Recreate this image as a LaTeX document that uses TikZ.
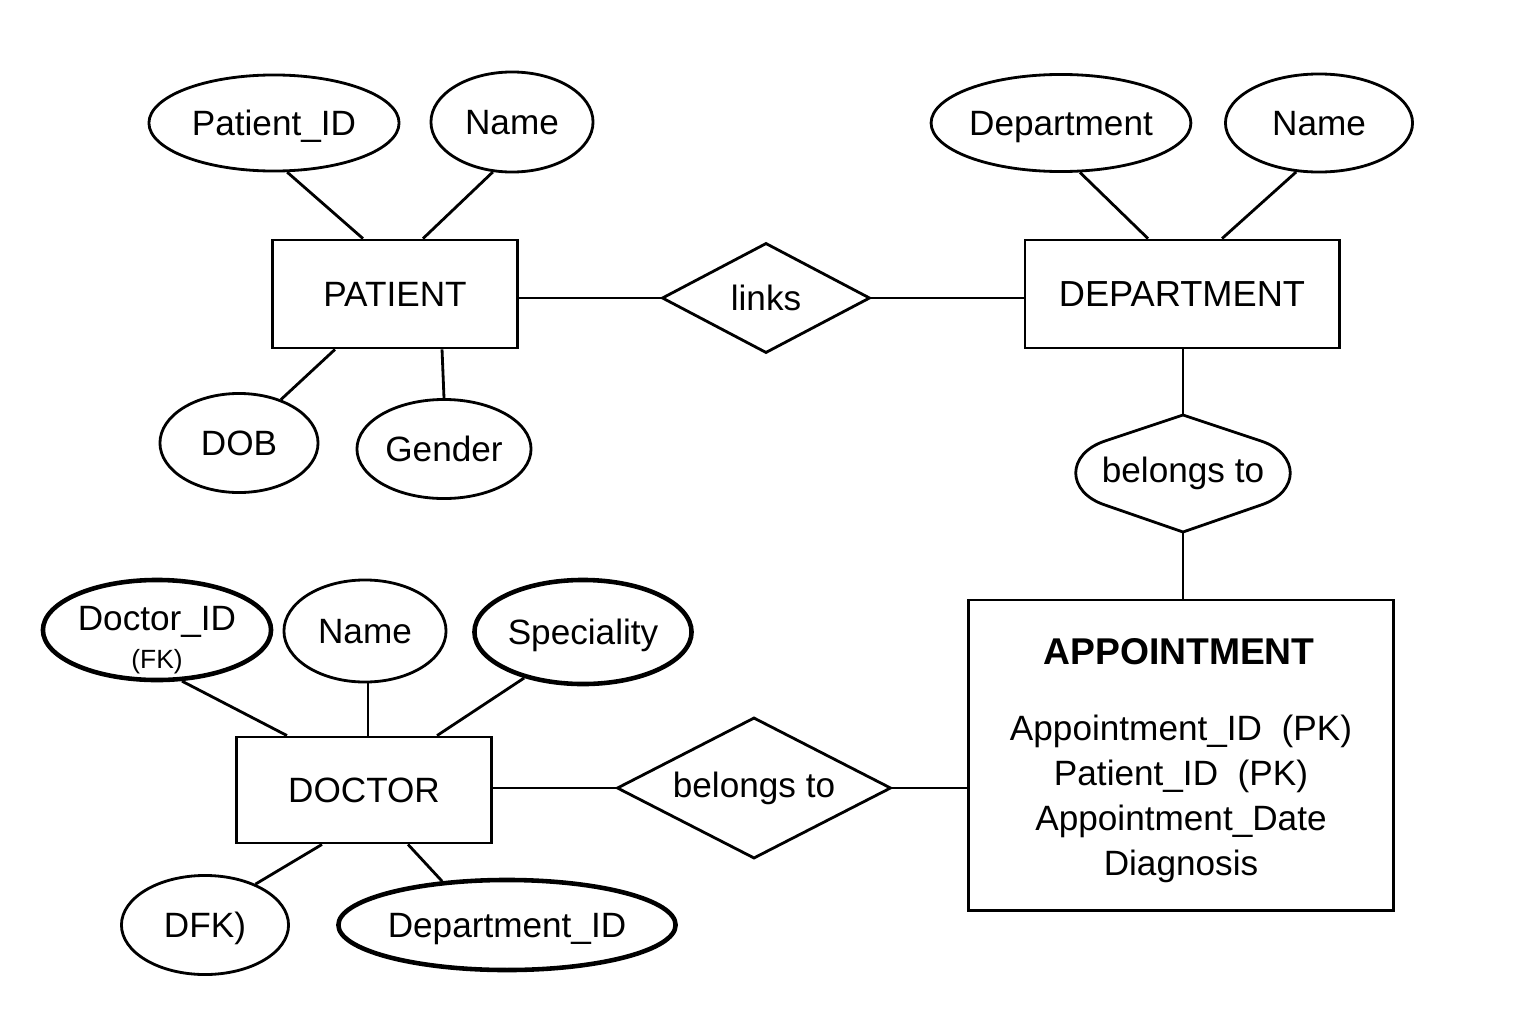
\documentclass[tikz,border=0pt]{standalone}
\usepackage{fontspec}
\setmainfont{Liberation Sans}
\usetikzlibrary{shapes.geometric}

\begin{document}
\begin{tikzpicture}[x=0.01cm,y=-0.01cm]
\tikzstyle{every node}+=[inner sep=0pt, font=\fontsize{10}{12}\selectfont]
\tikzstyle{attr}=[draw, ellipse, line width=0.8pt, text depth=0pt]
\tikzstyle{thickattr}=[attr, line width=1.3pt]
\tikzstyle{entity}=[draw, rectangle, line width=0.8pt, text depth=0pt]
\tikzstyle{rel}=[draw, diamond, aspect=1.95, line width=0.8pt]
\useasboundingbox [fill=white] (0,0) rectangle (1536,1024);
% patient
\node [entity, minimum width=2.45cm, minimum height=1.08cm] (patient) at (395,294) {PATIENT};
\node [attr, minimum width=2.50cm, minimum height=0.96cm] (pid) at (274,123) {Patient\_ID};
\node [attr, minimum width=1.62cm, minimum height=1.00cm] (pname) at (512,122) {Name};
\node [attr, minimum width=1.58cm, minimum height=0.99cm] (dob) at (239,443) {DOB};
\node [attr, minimum width=1.74cm, minimum height=0.99cm] (gender) at (444,449) {Gender};
% department
\node [entity, minimum width=3.14cm, minimum height=1.08cm] (dept) at (1182,294) {\fontsize{10.3}{12}\selectfont DEPARTMENT};
\node [attr, minimum width=2.49cm, minimum height=0.97cm] (deptattr) at (1061,123) {Department};
\node [attr, minimum width=1.87cm, minimum height=0.98cm] (dname) at (1319,123) {Name};
% doctor
\node [entity, minimum width=2.55cm, minimum height=1.06cm] (doctor) at (364,790) {DOCTOR};
\node [thickattr, minimum width=2.28cm, minimum height=1.00cm] (docid) at (157,630) {};
\node [align=center] (docidtext) at (157,640) {Doctor\_ID\\[-1pt]{\fontsize{7.5}{9}\selectfont(FK)}};
\node [attr, minimum width=1.62cm, minimum height=1.02cm] (docname) at (365,631) {Name};
\node [thickattr, minimum width=2.17cm, minimum height=1.04cm] (spec) at (583,632) {Speciality};
\node [attr, minimum width=1.67cm, minimum height=0.99cm] (dfk) at (205,925) {DFK)};
\node [thickattr, minimum width=3.31cm, minimum height=0.90cm] (deptid) at (507,925) {Department\_ID};
% appointment
\node [entity, minimum width=4.24cm, minimum height=3.10cm] (appt) at (1181,755) {};
\node (appttitle) at (1179,652) {\fontsize{10.6}{12}\selectfont\bfseries APPOINTMENT};
\node [align=center, font=\fontsize{10}{12.8}\selectfont] (apptattr) at (1181,799) {Appointment\_ID~ (PK)\\Patient\_ID~ (PK)\\Appointment\_Date\\Diagnosis};
% relationships
\node [rel, minimum width=2.08cm, minimum height=1.10cm] (links) at (766,298) {links};
\node [rel, minimum width=2.74cm, minimum height=1.41cm] (belongsdoc) at (754,788) {belongs to};
\node (belongsdept) at (1183,473) {belongs to};
\draw [black, line width=0.8pt] (1183,415) coordinate (bdtop) -- (1105,441) .. controls (1066,454) and (1066,492) .. (1105,505)
  -- (1183,532) coordinate (bdbot) -- (1261,505) .. controls (1300,492) and (1300,454) .. (1261,441) -- cycle;
% connectors
\tikzstyle{conn}=[black, line width=0.8pt]
\draw [conn] (pid.-75) -- ([xshift=-0.32cm]patient.north);
\draw [conn] (pname.-111) -- ([xshift=0.28cm]patient.north);
\draw [conn] ([xshift=-0.60cm]patient.south) -- (dob.46);
\draw [conn] ([xshift=0.47cm]patient.south) -- (gender.north);
\draw [conn] (links.west -| patient.east) -- (links.west);
\draw [conn] (links.east) -- (links.east -| dept.west);
\draw [conn] (deptattr.-69) -- ([xshift=-0.34cm]dept.north);
\draw [conn] (dname.-115) -- ([xshift=0.40cm]dept.north);
\draw [conn] (bdtop |- dept.south) -- (bdtop);
\draw [conn] (bdbot) -- (bdbot |- appt.north);
\draw [conn] (docid.-64) -- ([xshift=-0.77cm]doctor.north);
\draw [conn] ([xshift=0.04cm]doctor.north) -- ([xshift=0.04cm]doctor.north |- docname.south);
\draw [conn] (spec.-142) -- ([xshift=0.73cm]doctor.north);
\draw [conn] ([xshift=-0.42cm]doctor.south) -- (dfk.39);
\draw [conn] ([xshift=0.44cm]doctor.south) -- (deptid.146);
\draw [conn] (belongsdoc.west -| doctor.east) -- (belongsdoc.west);
\draw [conn] (belongsdoc.east) -- (belongsdoc.east -| appt.west);
\end{tikzpicture}
\end{document}
